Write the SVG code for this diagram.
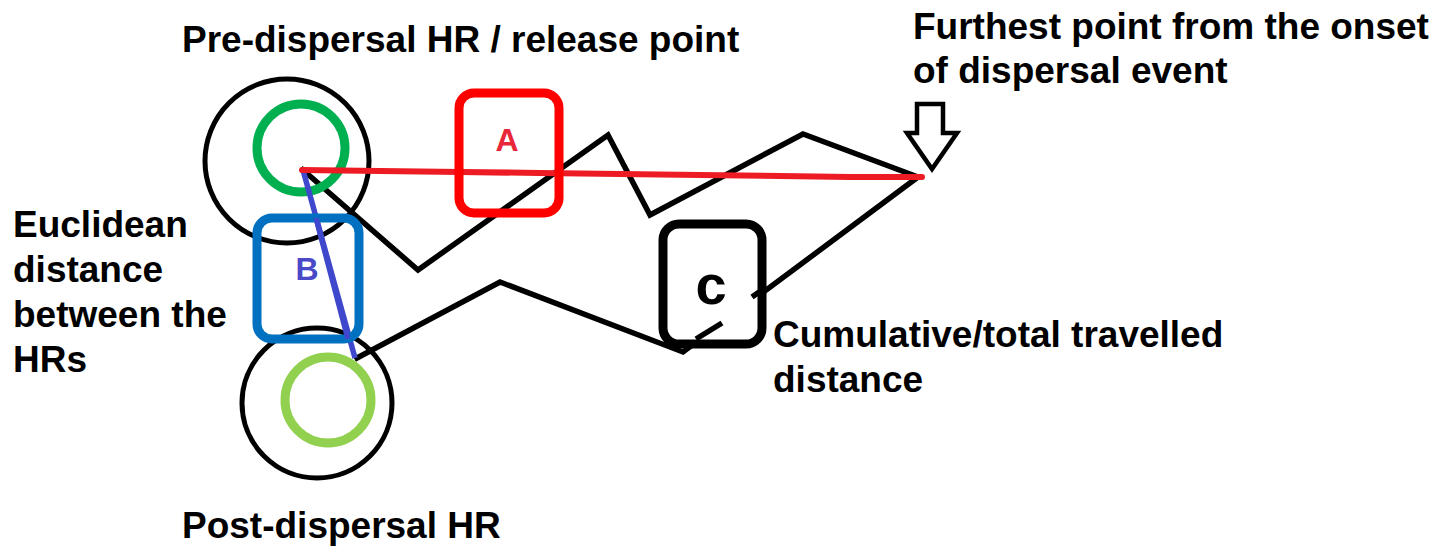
<svg xmlns="http://www.w3.org/2000/svg" width="1437" height="550" viewBox="0 0 1437 550">
<style>
.lbl{font-family:"Liberation Sans",Arial,sans-serif;font-weight:bold;font-size:37px;fill:#000}
.hr{fill:none;stroke:#000;stroke-width:5}
.path{fill:none;stroke:#000;stroke-width:5.5;stroke-linejoin:miter;stroke-linecap:square}
.box{stroke-width:9}
</style>
<rect width="1437" height="550" fill="#fff"/>
<g id="pre-hr">
<circle class="hr" cx="287" cy="161" r="82"/>
</g>
<g id="post-hr">
<circle class="hr" cx="317" cy="403" r="75"/>
</g>
<g id="connectors">
<polyline id="travel-path" class="path" points="303,170 418,270 608,135 650,215 803,134 918,177 683,352 500,282 357,358"/>
</g>
<g id="box-c">
<rect class="box" x="663" y="224" width="99" height="120" rx="16" fill="#fff" stroke="#000"/>
<line x1="696" y1="339" x2="722" y2="323" stroke="#000" stroke-width="5.5"/>
<line x1="752" y1="297" x2="762" y2="290" stroke="#000" stroke-width="5.5"/>
<text x="711" y="304" text-anchor="middle" font-family="Liberation Sans,Arial,sans-serif" font-weight="bold" font-size="56">c</text>
</g>
<g id="green-circle">
<circle cx="301" cy="148" r="44" fill="none" stroke="#00b050" stroke-width="9"/>
</g>
<g id="lightgreen-circle">
<circle cx="328" cy="400" r="43" fill="none" stroke="#92d050" stroke-width="9"/>
</g>
<g id="euclid-line">
<line x1="303" y1="170" x2="355" y2="358" stroke="#3f48cc" stroke-width="5.5"/>
</g>
<g id="red-line">
<polyline points="302,170 380,171 460,172 540,173 620,174 700,175 780,176 850,177 922,177" fill="none" stroke="#ed1c24" stroke-width="6" stroke-linecap="round"/>
</g>
<g id="box-a">
<rect class="box" x="459" y="93" width="100" height="120" rx="15" fill="none" stroke="#ff0000"/>
<text x="507" y="151" text-anchor="middle" font-family="Liberation Sans,Arial,sans-serif" font-weight="bold" font-size="32" fill="#e8283a">A</text>
</g>
<g id="box-b">
<rect class="box" x="257" y="218" width="102" height="121" rx="15" fill="none" stroke="#0070c0"/>
<line x1="316" y1="218" x2="348" y2="339" stroke="#3f48cc" stroke-width="5.5"/>
<text x="307" y="280" text-anchor="middle" font-family="Liberation Sans,Arial,sans-serif" font-weight="bold" font-size="32" fill="#4a4ac8">B</text>
</g>
<g id="arrow">
<polygon points="917,104 943,104 943,133 957,133 932,169 907,133 917,133" fill="#fff" stroke="#000" stroke-width="4.5" stroke-linejoin="miter"/>
</g>
<g id="labels">
<text class="lbl" x="182" y="52">Pre-dispersal HR / release point</text>
<text class="lbl" x="913" y="39">Furthest point from the onset</text>
<text class="lbl" x="913" y="83">of dispersal event</text>
<text class="lbl" x="13" y="237">Euclidean</text>
<text class="lbl" x="13" y="282">distance</text>
<text class="lbl" x="13" y="327">between the</text>
<text class="lbl" x="13" y="372">HRs</text>
<text class="lbl" x="773" y="347">Cumulative/total travelled</text>
<text class="lbl" x="773" y="392">distance</text>
<text class="lbl" x="182" y="538">Post-dispersal HR</text>
</g>
</svg>
